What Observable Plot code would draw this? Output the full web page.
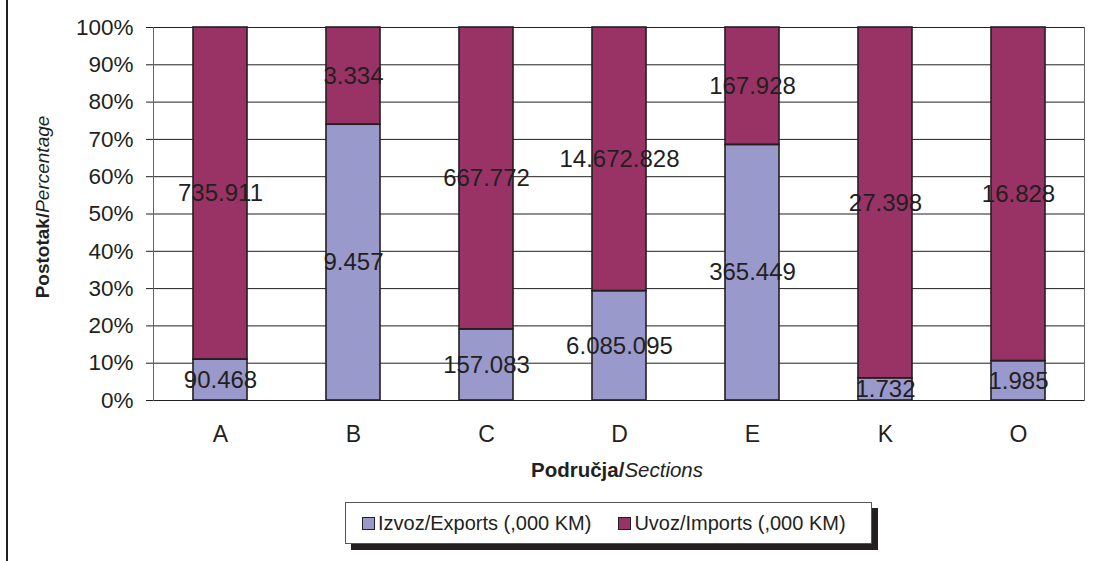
<!DOCTYPE html>
<html>
<head>
<meta charset="utf-8">
<script src="https://cdn.jsdelivr.net/npm/d3@7"></script>
<script src="https://cdn.jsdelivr.net/npm/@observablehq/plot@0.6"></script>
<style>
  html, body { margin: 0; padding: 0; background: #fff; }
  #wrap { position: relative; width: 1100px; height: 561px; overflow: hidden; font-family: "Liberation Sans", Arial, sans-serif; color: #231f20; }
  #leftline { position: absolute; left: 6px; top: 0; width: 1.5px; height: 561px; background: #231f20; }
  #chart { position: absolute; left: 0; top: 0; }
  #legend { position: absolute; left: 345px; top: 502px; width: 525px; height: 40px; border: 1px solid #555; background: #fff; box-shadow: 6px 6px 0 #231f20; display: flex; align-items: center; font-size: 20px; }
  .item { display: flex; align-items: center; }
  .item:first-child { margin-left: 16px; margin-right: 27px; }
  .sw { width: 11px; height: 11px; border: 1.5px solid #231f20; margin-right: 3px; }
</style>
</head>
<body>
<div id="wrap">
  <div id="leftline"></div>
  <div id="chart"></div>
  <div id="legend"></div>
</div>
<script>
const sections = ["A", "B", "C", "D", "E", "K", "O"];
const exportsVals = [90468, 9457, 157083, 6085095, 365449, 1732, 1985];
const importsVals = [735911, 3334, 667772, 14672828, 167928, 27398, 16828];
const seriesNames = ["Izvoz/Exports (,000 KM)", "Uvoz/Imports (,000 KM)"];
const seriesColors = ["#9999cc", "#993366"];
const yTicks = [0, 0.1, 0.2, 0.3, 0.4, 0.5, 0.6, 0.7, 0.8, 0.9, 1];

const fmt = d3.formatLocale({decimal: ",", thousands: ".", grouping: [3], currency: ["", ""]}).format(",d");

const data = [];
sections.forEach((s, i) => {
  data.push({section: s, series: seriesNames[0], value: exportsVals[i]});
  data.push({section: s, series: seriesNames[1], value: importsVals[i]});
});

const font = "'Liberation Sans', Arial, sans-serif";
const stackOpts = {x: "section", y: "value", z: "series", offset: "normalize"};

const plot = Plot.plot({
  width: 1100,
  height: 490,
  marginTop: 27,
  marginLeft: 153,
  marginRight: 16,
  marginBottom: 90,
  style: {fontFamily: font, color: "#231f20", background: "transparent"},
  x: {domain: sections, paddingInner: 0.594, paddingOuter: 0.297, label: null},
  y: {domain: [0, 1], label: null},
  color: {domain: seriesNames, range: seriesColors},
  marks: [
    Plot.gridY(yTicks, {stroke: "#231f20", strokeOpacity: 1, strokeWidth: 1}),
    Plot.frame({anchor: "left", stroke: "#666"}),
    Plot.frame({anchor: "right", stroke: "#666"}),
    Plot.barY(data, Plot.stackY({...stackOpts, fill: "series"})),
    Plot.text(data, Plot.stackY({...stackOpts, text: d => fmt(d.value), fontSize: 24, fill: "#231f20"})),
    Plot.barY(data, Plot.stackY({...stackOpts, fill: "none", stroke: "#231f20", strokeWidth: 1.6})),
    Plot.axisY({ticks: yTicks, tickFormat: d3.format(".0%"), tickSize: 7, tickPadding: 13, fontSize: 22.5, stroke: "#231f20", strokeOpacity: 1, label: null}),
    Plot.axisX({tickSize: 0, tickPadding: 25, fontSize: 23, label: null})
  ]
});

const svg = d3.select(plot);
svg.style("overflow", "visible");
// y axis title
const yt = svg.append("text")
  .attr("transform", "translate(49,207) rotate(-90)")
  .attr("text-anchor", "middle")
  .attr("font-size", 19)
  .attr("fill", "#231f20")
  .attr("font-family", font);
yt.append("tspan").attr("font-weight", "bold").text("Postotak/");
yt.append("tspan").attr("font-style", "italic").text("Percentage");
// x axis title
const xt = svg.append("text")
  .attr("x", 617)
  .attr("y", 477)
  .attr("text-anchor", "middle")
  .attr("font-size", 20.5)
  .attr("fill", "#231f20")
  .attr("font-family", font);
xt.append("tspan").attr("font-weight", "bold").text("Područja/");
xt.append("tspan").attr("font-style", "italic").text("Sections");

document.getElementById("chart").appendChild(plot);

const legend = d3.select("#legend");
seriesNames.forEach((n, i) => {
  const it = legend.append("div").attr("class", "item");
  it.append("div").attr("class", "sw").style("background", seriesColors[i]);
  it.append("span").text(n);
});
</script>
</body>
</html>
